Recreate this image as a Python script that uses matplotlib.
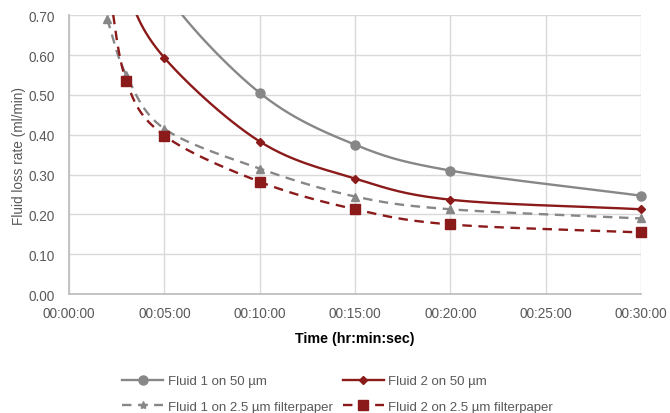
import numpy as np
import matplotlib
matplotlib.use("Agg")
import matplotlib.pyplot as plt
from matplotlib.ticker import FuncFormatter, MultipleLocator
from matplotlib.lines import Line2D

# Data (minutes, ml/min)
t_f1_50 = [2, 3, 5, 10, 15, 20, 30]
v_f1_50 = [1.20, 1.00, 0.76, 0.505, 0.375, 0.310, 0.247]

t_f2_50 = [2, 3, 5, 10, 15, 20, 30]
v_f2_50 = [1.00, 0.77, 0.593, 0.383, 0.290, 0.237, 0.213]

t_f1_25 = [2, 3, 5, 10, 15, 20, 30]
v_f1_25 = [0.690, 0.550, 0.415, 0.315, 0.245, 0.213, 0.190]

t_f2_25 = [2, 3, 5, 10, 15, 20, 30]
v_f2_25 = [0.80, 0.535, 0.398, 0.282, 0.213, 0.175, 0.155]

labels = ["Fluid 1 on 50 \u00b5m", "Fluid 2 on 50 \u00b5m",
          "Fluid 1 on 2.5 \u00b5m filterpaper", "Fluid 2 on 2.5 \u00b5m filterpaper"]

GRAY = "#878787"
RED = "#8b1a1a"
TXT = "#595959"
YMAX = 0.70

plt.rcParams['font.family'] = ['Liberation Sans', 'DejaVu Sans']


def smooth(x, y, n=30):
    # Catmull-Rom style Bezier spline (Excel-like smoothing)
    x = np.asarray(x, float)
    y = np.asarray(y, float)
    P = np.column_stack([x, y])
    P = np.vstack([P[:1], P, P[-1:]])
    P[0] = 2 * P[1] - P[2]
    P[-1] = 2 * P[-2] - P[-3]
    out = []
    for i in range(1, len(P) - 2):
        p0, p1, p2, p3 = P[i - 1], P[i], P[i + 1], P[i + 2]
        c1 = p1 + (p2 - p0) / 6.0
        c2 = p2 - (p3 - p1) / 6.0
        s = np.linspace(0, 1, n)[:, None]
        seg = ((1 - s) ** 3) * p1 + 3 * ((1 - s) ** 2) * s * c1 + 3 * (1 - s) * s ** 2 * c2 + s ** 3 * p2
        out.append(seg if i == 1 else seg[1:])
    out = np.vstack(out)
    return out[:, 0], out[:, 1]


fig = plt.figure(figsize=(6.7, 4.14), dpi=100)
ax = fig.add_axes([0.103, 0.287, 0.854, 0.674])

series = [
    (t_f1_50, v_f1_50, GRAY, '-', 'o', 6.5),
    (t_f2_50, v_f2_50, RED, '-', 'D', 4.5),
    (t_f1_25, v_f1_25, GRAY, (0, (4, 2.8)), '^', 6),
    (t_f2_25, v_f2_25, RED, (0, (4, 2.8)), 's', 6.5),
]
handles = []
for (t, v, c, ls, mk, ms), lab in zip(series, labels):
    sx, sy = smooth(t, v)
    ax.plot(sx, sy, color=c, lw=1.7, ls=ls, zorder=3)
    tv = [(a, b) for a, b in zip(t, v) if b <= YMAX]
    ax.plot([a for a, b in tv], [b for a, b in tv], ls='none', marker=mk, color=c,
            ms=ms, zorder=4, clip_on=False)
    handles.append(Line2D([], [], color=c, lw=1.7, ls=ls, marker=('*' if mk == '^' else mk),
                          ms=ms, label=lab))

ax.set_xlim(0, 30)
ax.set_ylim(0, YMAX)
ax.xaxis.set_major_locator(MultipleLocator(5))
ax.yaxis.set_major_locator(MultipleLocator(0.1))
ax.xaxis.set_major_formatter(FuncFormatter(lambda v, p: "00:%02d:00" % int(round(v))))
ax.yaxis.set_major_formatter(FuncFormatter(lambda v, p: "%.2f" % v))
ax.grid(True, color="#d9d9d9", lw=1)
ax.set_axisbelow(True)
for s in ['top', 'right']:
    ax.spines[s].set_visible(False)
for s in ['left', 'bottom']:
    ax.spines[s].set_color("#bfbfbf")
    ax.spines[s].set_linewidth(1.3)
ax.tick_params(length=0, labelsize=9.8, labelcolor=TXT)
ax.tick_params(axis='y', pad=10)
ax.tick_params(axis='x', pad=8.5)
ax.set_ylabel("Fluid loss rate (ml/min)", color=TXT, fontsize=9.8, labelpad=2)
ax.set_xlabel("Time (hr:min:sec)", fontsize=10.3, fontweight='bold', labelpad=8)

order = [handles[0], handles[2], handles[1], handles[3]]
fig.legend(handles=order, loc='lower left', bbox_to_anchor=(0.165, -0.028), ncol=2,
           frameon=False, fontsize=9.5, labelcolor=TXT, handlelength=3.1,
           columnspacing=0.75, handletextpad=0.35, labelspacing=1.0)

fig.savefig("out.png", dpi=100)
